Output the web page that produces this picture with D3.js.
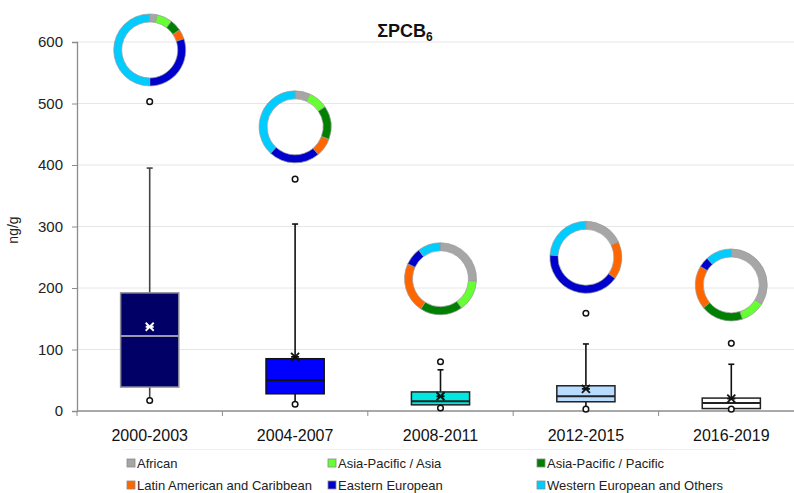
<!DOCTYPE html>
<html><head><meta charset="utf-8">
<script src="https://cdn.jsdelivr.net/npm/d3@7"></script>
<style>body{margin:0;background:#fff;}svg{display:block;font-family:Arial,"Liberation Sans",sans-serif;}</style>
</head><body>
<svg id="c" width="794" height="493"></svg>
<script>
// ---- data ----
const categories = ["2000-2003","2004-2007","2008-2011","2012-2015","2016-2019"];
const q1      = [39, 28, 10, 15, 4];
const median  = [122, 50, 16, 24, 13];
const q3      = [192, 85, 31, 41, 21];
const mean    = [137, 88, 24, 36, 20];
const whiskHi = [395, 304, 67, 109, 76];
const whiskLo = [17, 11, 5, 3, 3];
const outHi   = [503, 377, 80, 159, 110];
const yTicks  = [0,100,200,300,400,500,600];
const groups  = ["African","Asia-Pacific / Asia","Asia-Pacific / Pacific","Latin American and Caribbean","Eastern European","Western European and Others"];
// regional shares (%) per period, clockwise from 12 o'clock, order as groups
const shares = [
  [3.3, 7.0, 5.3, 4.4, 30, 50],
  [6.7, 8.9, 15, 8.3, 23, 38],
  [26, 14, 19, 22.5, 7.8, 10.3],
  [18, 0, 0, 17, 41, 24],
  [34, 11, 19, 19.5, 4.7, 11.7]
];
const donutAt = [587, 462, 215, 250, 205]; // donut centre, in ng/g units

// ---- style ----
const boxFill   = ["#000066","#0000FF","#00E8E0","#B8DCFF","#FFFFFF"];
const boxStroke = ["#8a8a99","#111","#222","#222","#222"];
const medStroke = ["#9a9aa8","#111","#222","#222","#222"];
const groupColors = ["#A6A6A6","#66FF33","#008000","#FF6600","#0000CC","#00CCFF"];

const svg = d3.select("#c");
const x = d3.scaleBand().domain(categories).range([77, 804]).padding(0);
const y = d3.scaleLinear().domain([0, 600]).range([411, 42]);

// gridlines
svg.append("g").selectAll("line").data(yTicks.filter(d=>d>0)).join("line")
  .attr("x1", 77).attr("x2", 794).attr("y1", d=>y(d)).attr("y2", d=>y(d))
  .attr("stroke", "#e6e6e6").attr("stroke-width", 1);

// y axis
const yAxis = svg.append("g").attr("transform","translate(77,0)")
  .call(d3.axisLeft(y).tickValues(yTicks).tickSize(5).tickPadding(9).tickFormat(d3.format("d")));
yAxis.select(".domain").attr("stroke","#8c8c8c").attr("stroke-width",1.3);
yAxis.selectAll(".tick line").attr("stroke","#8c8c8c");
yAxis.selectAll("text").attr("font-size",15).attr("fill","#222").attr("font-family","Arial, 'Liberation Sans', sans-serif");

// x axis
const xAxis = svg.append("g").attr("transform","translate(0,411)")
  .call(d3.axisBottom(x).tickSize(0).tickPadding(19));
xAxis.select(".domain").attr("stroke","#8c8c8c").attr("stroke-width",1.3).attr("d","M77,0H794");
xAxis.selectAll("text").attr("font-size",16).attr("fill","#111").attr("font-family","Arial, 'Liberation Sans', sans-serif");
svg.append("g").selectAll("line").data(categories).join("line")
  .attr("x1", d=>x(d)).attr("x2", d=>x(d)).attr("y1", 411).attr("y2", 416)
  .attr("stroke","#8c8c8c");

// y title
svg.append("text").attr("transform","translate(18,230) rotate(-90)")
  .attr("text-anchor","middle").attr("font-size",14).attr("fill","#222").text("ng/g");

// title
const t = svg.append("text").attr("x",405).attr("y",37).attr("text-anchor","middle")
  .attr("font-size",18).attr("font-weight","bold").attr("fill","#111");
t.append("tspan").text("ΣPCB");
t.append("tspan").attr("font-size",12).attr("dy",4).text("6");

// boxes
const bw = x.bandwidth()*0.4;
const capW = 6;
const boxes = svg.append("g");
categories.forEach((c,i)=>{
  const cx = x(c) + x.bandwidth()/2;
  const g = boxes.append("g");
  const sc = i===0 ? "#444" : "#111";
  g.append("line").attr("x1",cx).attr("x2",cx).attr("y1",y(q3[i])).attr("y2",y(whiskHi[i])).attr("stroke",sc).attr("stroke-width",1.6);
  g.append("line").attr("x1",cx-capW/2).attr("x2",cx+capW/2).attr("y1",y(whiskHi[i])).attr("y2",y(whiskHi[i])).attr("stroke",sc).attr("stroke-width",1.6);
  g.append("line").attr("x1",cx).attr("x2",cx).attr("y1",y(q1[i])).attr("y2",y(whiskLo[i])).attr("stroke",sc).attr("stroke-width",1.6);
  g.append("rect").attr("x",cx-bw/2).attr("width",bw).attr("y",y(q3[i])).attr("height",y(q1[i])-y(q3[i]))
    .attr("fill",boxFill[i]).attr("stroke",boxStroke[i]).attr("stroke-width",1.5);
  g.append("line").attr("x1",cx-bw/2).attr("x2",cx+bw/2).attr("y1",y(median[i])).attr("y2",y(median[i]))
    .attr("stroke",medStroke[i]).attr("stroke-width",2);
  const my = y(mean[i]), ms = 4;
  const mc = i===0 ? "#fff" : "#111";
  g.append("path").attr("d",`M${cx-ms},${my-ms}L${cx+ms},${my+ms}M${cx-ms},${my+ms}L${cx+ms},${my-ms}M${cx-ms},${my}H${cx+ms}`)
    .attr("stroke",mc).attr("stroke-width",1.8).attr("fill","none");
  [outHi[i], whiskLo[i]].forEach(v=>{
    g.append("circle").attr("cx",cx).attr("cy",y(v)).attr("r",2.8)
      .attr("fill","#fff").attr("stroke","#111").attr("stroke-width",1.5);
  });
});

// donuts
const pie = d3.pie().sort(null).value(d=>d);
const arc = d3.arc().innerRadius(28).outerRadius(36);
categories.forEach((c,i)=>{
  const cx = x(c) + x.bandwidth()/2;
  const g = svg.append("g").attr("transform",`translate(${cx},${y(donutAt[i])})`);
  g.selectAll("path").data(pie(shares[i]).map((d,k)=>({...d,k}))).join("path")
    .filter(d=>d.value>0)
    .attr("d",arc).attr("fill",d=>groupColors[d.k]).attr("stroke","#9a9a9a").attr("stroke-width",0.7);
});

// legend
const legX = [131, 332, 541], legY = [463, 485];
const leg = svg.append("g");
leg.append("line").attr("x1",122).attr("x2",736).attr("y1",449.5).attr("y2",449.5).attr("stroke","#f0f0f0");
groups.forEach((gname,k)=>{
  const lx = legX[k%3], ly = legY[Math.floor(k/3)];
  leg.append("rect").attr("x",lx-4).attr("y",ly-4).attr("width",8).attr("height",8)
    .attr("fill",groupColors[k]).attr("stroke","#8a8a8a").attr("stroke-width",0.8);
  leg.append("text").attr("x",lx+6).attr("y",ly+5).attr("font-size",13).attr("fill","#222").text(gname);
});
</script>
</body></html>
